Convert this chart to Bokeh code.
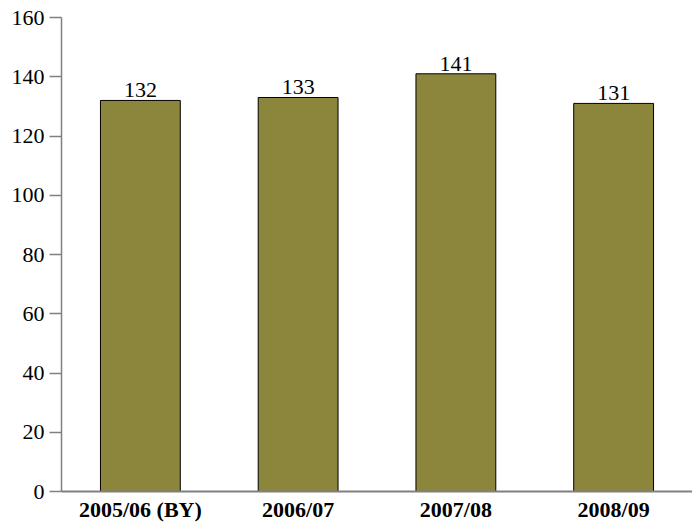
from bokeh.plotting import figure
from bokeh.models import ColumnDataSource, Range1d, FactorRange, LabelSet
from bokeh.embed import file_html
from bokeh.resources import INLINE

categories = ["2005/06 (BY)", "2006/07", "2007/08", "2008/09"]
values = [132, 133, 141, 131]
y_ticks = [0, 20, 40, 60, 80, 100, 120, 140, 160]

FONT = "Liberation Serif"
source = ColumnDataSource(data=dict(cat=categories, val=values, lbl=[str(v) for v in values]))

p = figure(x_range=FactorRange(*categories, range_padding=0), y_range=Range1d(0, 160),
           frame_width=631, frame_height=474, output_backend="svg", toolbar_location=None,
           min_border_left=61, min_border_right=0, min_border_top=17, min_border_bottom=0)

p.vbar(x="cat", top="val", width=0.506, source=source,
       fill_color="#8C863D", line_color="#000000", line_width=1)

labels = LabelSet(x="cat", y="val", text="lbl", source=source, text_align="center",
                  text_baseline="alphabetic", y_offset=3, text_font=FONT,
                  text_font_size="22px", text_color="#000000")
p.add_layout(labels)

p.xgrid.visible = False
p.ygrid.visible = False
p.outline_line_color = None

p.yaxis.ticker = y_ticks
p.yaxis.axis_line_color = "#808080"
p.yaxis.axis_line_width = 1.5
p.yaxis.major_tick_line_color = "#808080"
p.yaxis.major_tick_line_width = 1.5
p.yaxis.major_tick_out = 12
p.yaxis.major_tick_in = 0
p.yaxis.minor_tick_line_color = None
p.yaxis.major_label_standoff = 5
p.yaxis.major_label_text_font = FONT
p.yaxis.major_label_text_font_size = "22px"
p.yaxis.major_label_text_color = "#000000"

p.xaxis.axis_line_color = "#808080"
p.xaxis.axis_line_width = 2
p.xaxis.major_tick_line_color = None
p.xaxis.minor_tick_line_color = None
p.xaxis.major_tick_out = 0
p.xaxis.major_tick_in = 0
p.xaxis.major_label_standoff = 5
p.xaxis.major_label_text_font = FONT
p.xaxis.major_label_text_font_size = "22px"
p.xaxis.major_label_text_font_style = "bold"
p.xaxis.major_label_text_color = "#000000"

open("out.html", "w").write(file_html(p, INLINE))
